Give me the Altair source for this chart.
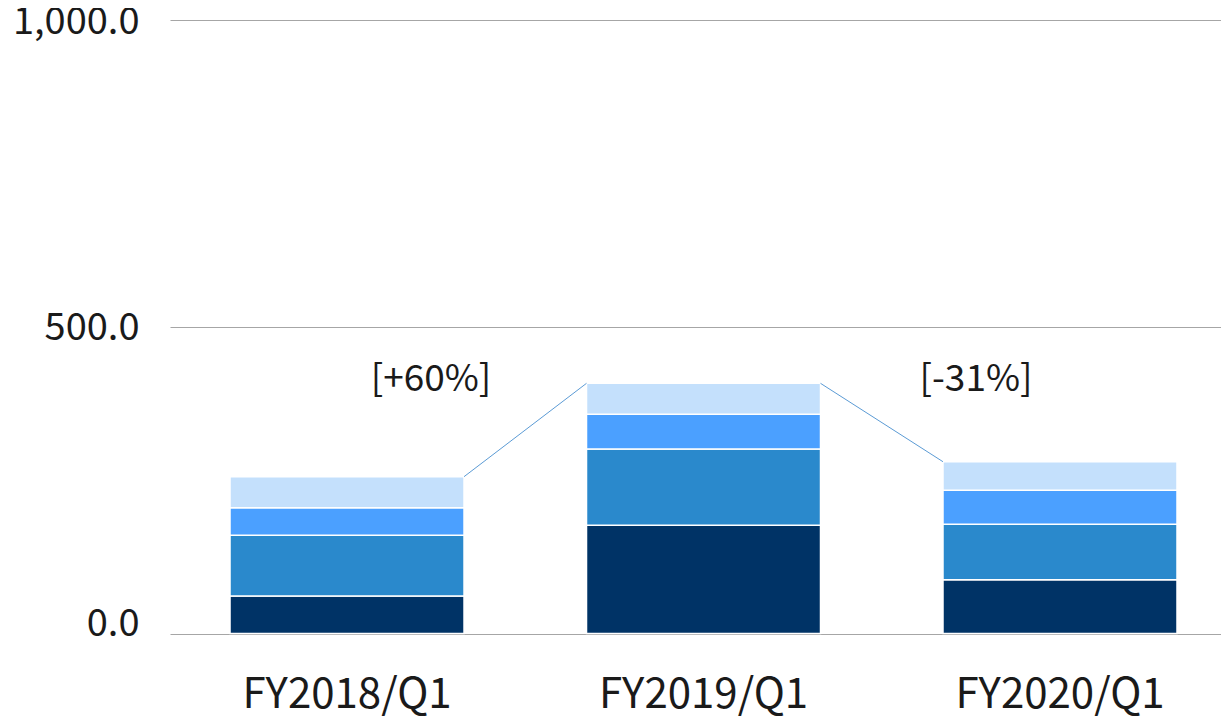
import altair as alt
import pandas as pd

categories = ["FY2018/Q1", "FY2019/Q1", "FY2020/Q1"]
series = ["Segment 1", "Segment 2", "Segment 3", "Segment 4"]
seg1 = [61.1, 176.4, 87.7]
seg2 = [99.0, 124.3, 90.3]
seg3 = [45.0, 56.6, 55.4]
seg4 = [50.5, 50.5, 46.6]
colors = ["#003366", "#2A89CC", "#4BA0FF", "#C4E0FC"]

change_labels = ["[+60%]", "[-31%]"]
change_from = ["FY2018/Q1", "FY2019/Q1"]
change_to = ["FY2019/Q1", "FY2020/Q1"]
label_at = ["FY2018/Q1", "FY2020/Q1"]

FONT = "Noto Sans CJK JP"

rows = []
for s_i, (name, vals) in enumerate(zip(series, [seg1, seg2, seg3, seg4])):
    for c, v in zip(categories, vals):
        rows.append({"cat": c, "series": name, "value": v, "ord": s_i})
bars_df = pd.DataFrame(rows)

totals = {c: seg1[i] + seg2[i] + seg3[i] + seg4[i] for i, c in enumerate(categories)}
conn_df = pd.DataFrame({
    "cat": change_from,
    "cat_to": change_to,
    "value": [totals[c] for c in change_from],
    "value_to": [totals[c] for c in change_to],
})
label_y = max(totals.values())
lab_df = pd.DataFrame({"cat": label_at, "label": change_labels, "value": [label_y, label_y]})

xscale = alt.Scale(type="band", domain=categories, paddingInner=0.3436,
                   paddingOuter=0.1459, align=0.577)
yscale = alt.Scale(domain=[0, 1000])

xaxis = alt.Axis(title=None, labelAngle=0, labelFontSize=42, labelFont=FONT,
                 labelColor="#1a1a1a", ticks=False, domain=False, grid=False,
                 labelPadding=74, labelBaseline="alphabetic", labelLimit=0)
yaxis = alt.Axis(title=None, values=[0, 500, 1000], format=",.1f",
                 labelFontSize=38, labelFont=FONT, labelColor="#1a1a1a",
                 labelOffset={"condition": {"test": "datum.value == 0", "value": -9}, "value": 2},
                 ticks=False, domain=False, grid=True, gridColor="#A6A6A6",
                 gridWidth=1.2, labelPadding=31, labelLimit=0)

bars = alt.Chart(bars_df).mark_bar(stroke="white", strokeWidth=1.5).encode(
    x=alt.X("cat:N", scale=xscale, axis=xaxis),
    y=alt.Y("value:Q", stack="zero", scale=yscale, axis=yaxis),
    color=alt.Color("series:N", scale=alt.Scale(domain=series, range=colors), legend=None),
    order=alt.Order("ord:Q", sort="ascending"),
)

conn = alt.Chart(conn_df).mark_rule(color="#5B9BD5", strokeWidth=1).encode(
    x=alt.X("cat:N", bandPosition=1),
    x2=alt.X2("cat_to:N", bandPosition=0),
    y=alt.Y("value:Q"),
    y2=alt.Y2("value_to:Q"),
)

lab1 = alt.Chart(lab_df.iloc[[0]]).mark_text(
    font=FONT, fontSize=37, color="#1a1a1a", dx=84, dy=-3, baseline="middle", align="center"
).encode(x=alt.X("cat:N"), y=alt.Y("value:Q"), text="label:N")

lab2 = alt.Chart(lab_df.iloc[[1]]).mark_text(
    font=FONT, fontSize=37, color="#1a1a1a", dx=-84, dy=-3, baseline="middle", align="center"
).encode(x=alt.X("cat:N"), y=alt.Y("value:Q"), text="label:N")

chart = alt.layer(bars, conn, lab1, lab2).properties(
    width=1051, height=613.5,
    autosize=alt.AutoSizeParams(type="none"),
    padding={"left": 162, "top": 12, "right": 0, "bottom": 82},
    view=alt.ViewBackground(strokeWidth=0, strokeOpacity=0),
).configure_view(strokeWidth=0, stroke="transparent", strokeOpacity=0).configure_axis(
    domain=False, domainOpacity=0, ticks=False, tickOpacity=0, grid=False
).configure_axisX(grid=False, gridOpacity=0, domainOpacity=0, tickOpacity=0
).configure_axisY(grid=True, domainOpacity=0, tickOpacity=0).configure(background="white")

chart.save("out.html", embed_options={"renderer": "svg", "actions": False})
